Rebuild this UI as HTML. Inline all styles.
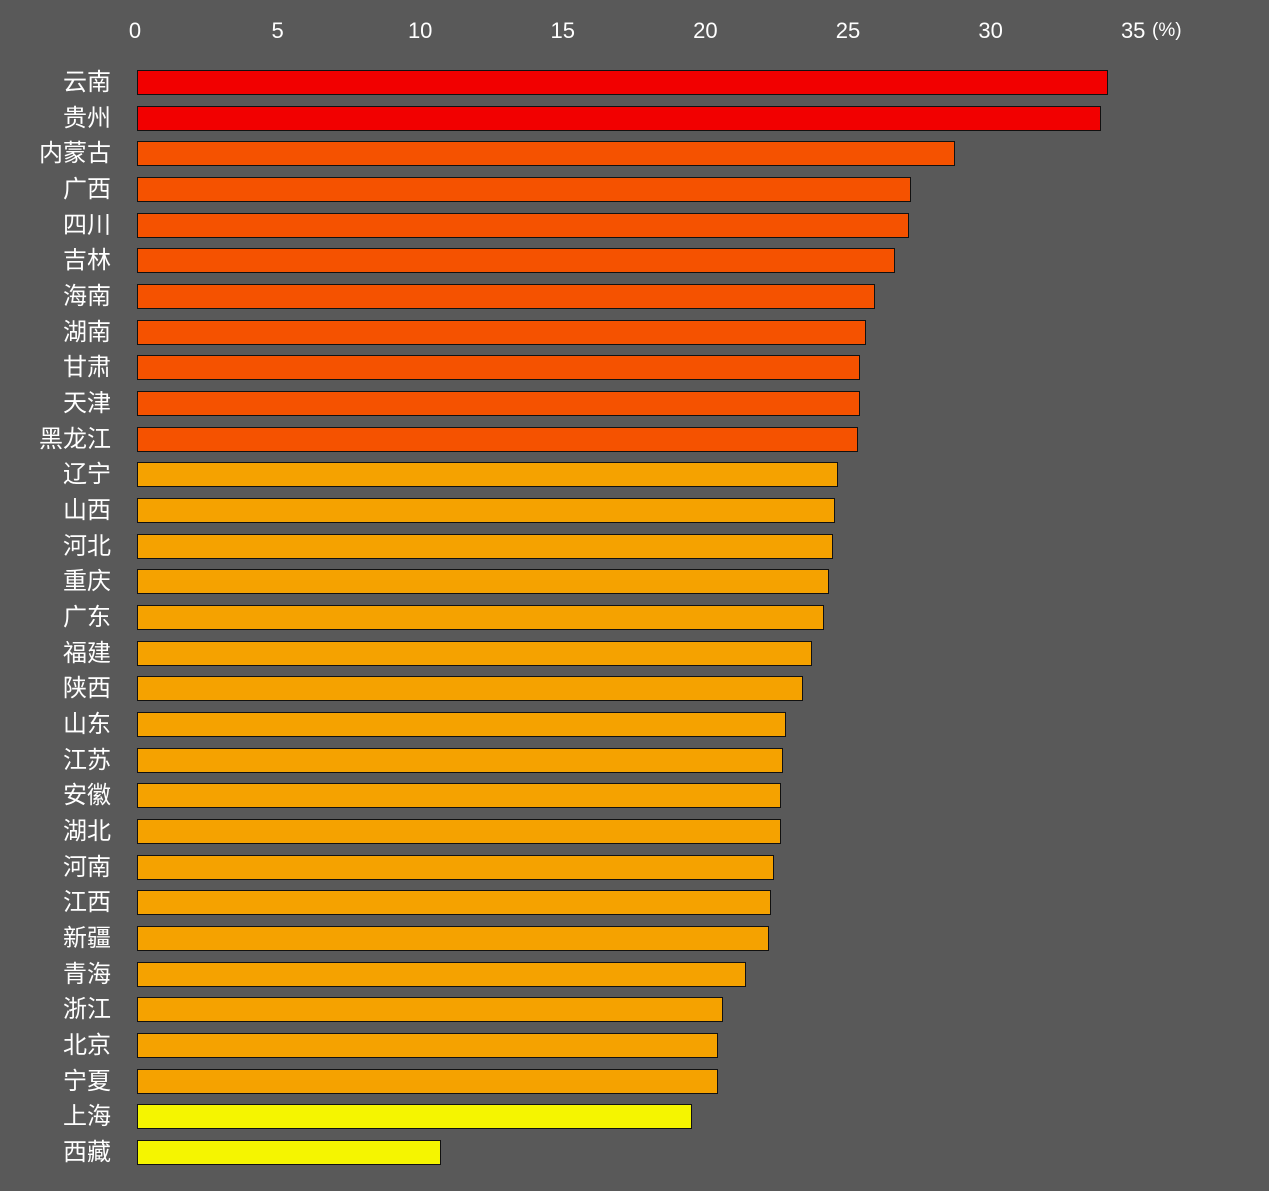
<!DOCTYPE html>
<html><head><meta charset="utf-8"><style>
body{margin:0;width:1269px;height:1191px;background:#595959;position:relative;overflow:hidden;font-family:"Liberation Sans","Noto Sans CJK SC",sans-serif;color:#fff}
.t{position:absolute;top:18px;font-size:22px;transform:translateX(-50%)}
.l{position:absolute;right:1158px;font-size:24px;line-height:26px;white-space:nowrap}
.b{position:absolute;left:137px;height:25px;border:1.5px solid #111;box-sizing:border-box}
</style></head><body>
<div id="c"></div>
<script>
const names="云南 贵州 内蒙古 广西 四川 吉林 海南 湖南 甘肃 天津 黑龙江 辽宁 山西 河北 重庆 广东 福建 陕西 山东 江苏 安徽 湖北 河南 江西 新疆 青海 浙江 北京 宁夏 上海 西藏".split(" ");
const ends=[1107,1100,954,910,908,894,874,865,859,859,857,837,834,832,828,823,811,802,785,782,780,780,773,770,768,745,722,717,717,691,440];
let h="";
for(let i=0;i<=7;i++){h+=`<div class="t" style="left:${135+i*142.6}px">${i*5}</div>`}
h+=`<div style="position:absolute;top:20px;left:1152px;font-size:19px">(%)</div>`;
names.forEach((n,i)=>{const y=70+i*35.67;
let c=i<2?"#f20000":i<11?"#f55200":i<29?"#f5a200":"#f5f500";
h+=`<div class="l" style="top:${y}px">${n}</div><div class="b" style="top:${y}px;width:${ends[i]-137+1}px;background:${c}"></div>`});
document.getElementById("c").innerHTML=h;
</script>
</body></html>
